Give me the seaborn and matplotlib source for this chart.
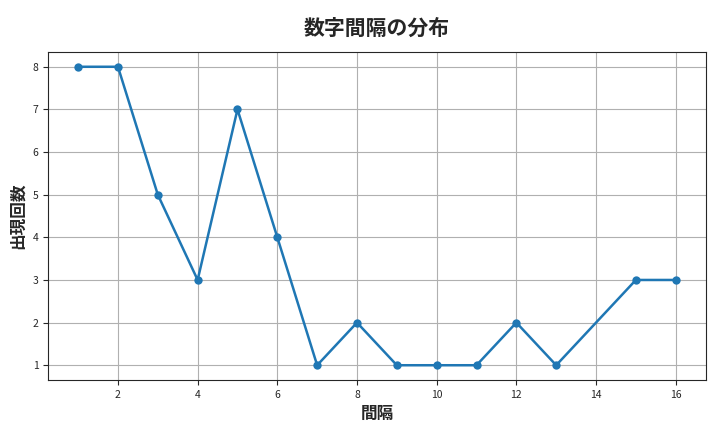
import matplotlib
matplotlib.use("Agg")
import matplotlib.pyplot as plt
import seaborn as sns
import pandas as pd

gaps = [1, 2, 3, 4, 5, 6, 7, 8, 9, 10, 11, 12, 13, 15, 16]
counts = [8, 8, 5, 3, 7, 4, 1, 2, 1, 1, 1, 2, 1, 3, 3]
title = "数字間隔の分布"
xlabel = "間隔"
ylabel = "出現回数"

sns.set_style("ticks")
plt.rcParams['font.family'] = ['Noto Sans CJK JP', 'DejaVu Sans']

df = pd.DataFrame({"gap": gaps, "count": counts})
fig, ax = plt.subplots(figsize=(7.2, 4.32), dpi=100)
sns.lineplot(data=df, x="gap", y="count", marker="o", color="#1f77b4",
             linewidth=1.8, markersize=6, markeredgewidth=0, ax=ax)
ax.grid(True, color="#b0b0b0", linewidth=0.8)
ax.set_title(title, fontsize=15, fontweight="bold", pad=12)
ax.set_xlabel(xlabel, fontsize=12, fontweight="bold")
ax.set_ylabel(ylabel, fontsize=12, fontweight="bold")
ax.set_xticks(range(2, 17, 2))
ax.tick_params(labelsize=7.5)
fig.tight_layout()
fig.subplots_adjust(left=0.067, right=0.98, top=0.88, bottom=0.12)
fig.savefig("out.png", dpi=100)
